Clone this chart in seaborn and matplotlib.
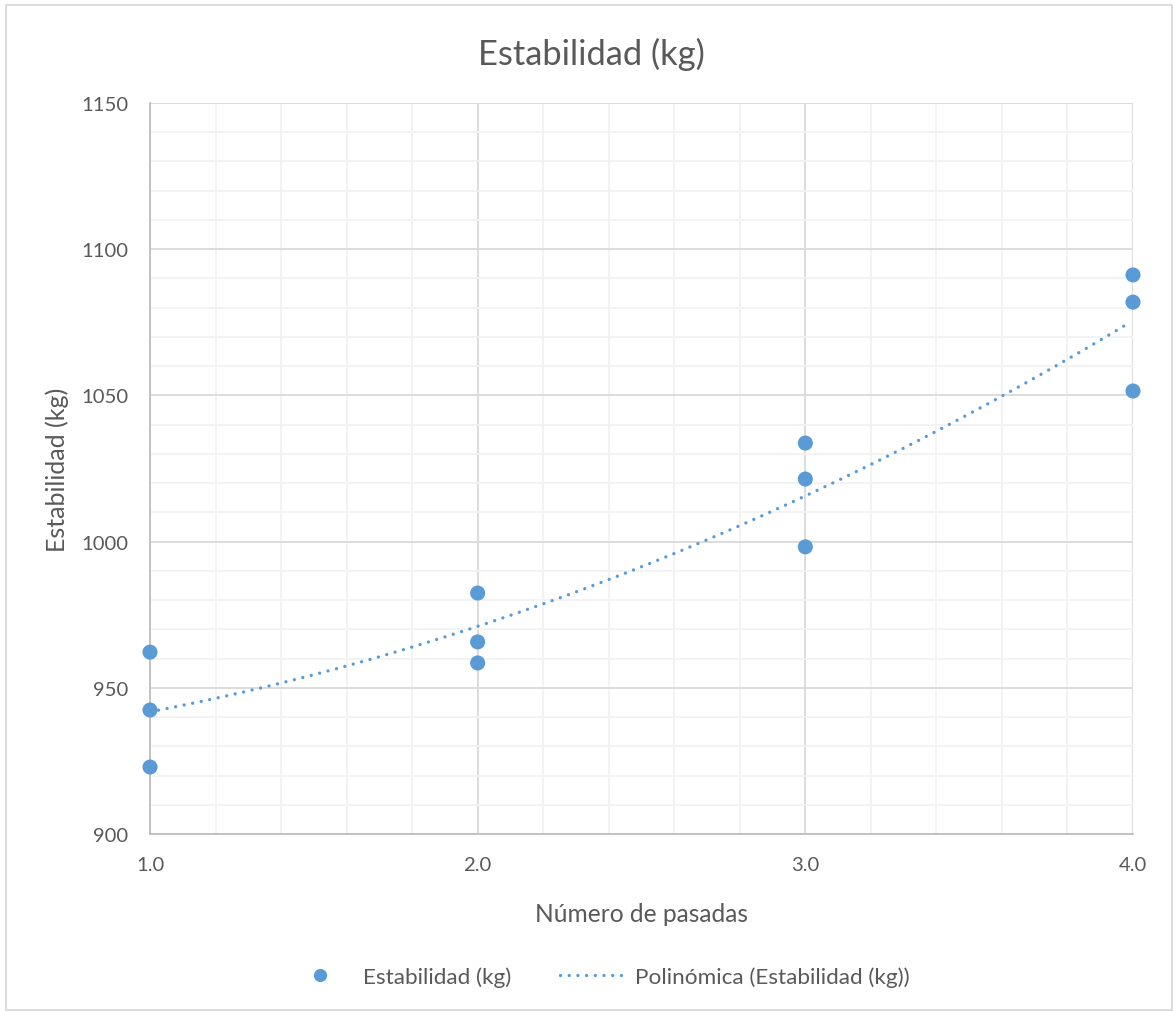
import numpy as np
import pandas as pd
import matplotlib
matplotlib.use("Agg")
import matplotlib.pyplot as plt
import seaborn as sns
from matplotlib.ticker import MultipleLocator, FormatStrFormatter
from matplotlib.lines import Line2D
from matplotlib.patches import Rectangle

# Data
pasadas = [1, 1, 1, 2, 2, 2, 3, 3, 3, 4, 4, 4]
estabilidad = [962.2, 942.4, 922.9, 982.4, 965.7, 958.5,
               1033.7, 1021.4, 998.2, 1091.2, 1081.9, 1051.5]
title = "Estabilidad (kg)"
xlabel = "Número de pasadas"
ylabel = "Estabilidad (kg)"
series_label = "Estabilidad (kg)"
trend_label = "Polinómica (Estabilidad (kg))"

sns.set_theme(style="white")
plt.rcParams['font.family'] = ['Lato', 'DejaVu Sans']

text_col = "#595959"
blue = "#5B9BD5"
W, H = 1174, 1012

fig = plt.figure(figsize=(W / 100, H / 100), dpi=100)
renderer = fig.canvas.get_renderer()


def size_for(text, target_px, base=20):
    t = fig.text(0, 0, text, fontsize=base)
    w = t.get_window_extent(renderer).width
    t.remove()
    return base * target_px / w


title_fs = size_for(title, 227)
xlabel_fs = size_for(xlabel, 213)
ylabel_fs = size_for(ylabel, 165)
tick_fs = size_for("1150", 47)
leg_fs = size_for(series_label, 148)

ax = fig.add_axes([150 / W, 1 - 835 / H, (1133 - 150) / W, (835 - 104) / H])

df = pd.DataFrame({"x": pasadas, "y": estabilidad})
coef = np.polyfit(df["x"], df["y"], 2)
xt = np.linspace(1.0, 3.98, 300)
trend = pd.DataFrame({"x": xt, "y": np.polyval(coef, xt)})

dot_style = (0, (0.01, 2.6))
sns.lineplot(data=trend, x="x", y="y", ax=ax, color=blue, lw=2.4,
             linestyle=dot_style, dash_capstyle="round", zorder=3)
sns.scatterplot(data=df, x="x", y="y", ax=ax, color=blue, s=118,
                edgecolor="none", zorder=4, clip_on=False)

ax.set_xlim(1, 4)
ax.set_ylim(900, 1150)
ax.xaxis.set_major_locator(MultipleLocator(1))
ax.xaxis.set_minor_locator(MultipleLocator(0.2))
ax.yaxis.set_major_locator(MultipleLocator(50))
ax.yaxis.set_minor_locator(MultipleLocator(10))
ax.xaxis.set_major_formatter(FormatStrFormatter("%.1f"))

ax.grid(which="major", color="#D9D9D9", lw=1.3)
ax.grid(which="minor", color="#F2F2F2", lw=1.3)
ax.set_axisbelow(True)

for s in ["top", "right"]:
    ax.spines[s].set_visible(False)
for s in ["left", "bottom"]:
    ax.spines[s].set_color("#BFBFBF")
    ax.spines[s].set_linewidth(1.3)

ax.tick_params(axis="both", which="major", length=5.5, width=1.3, color="#BFBFBF",
               labelsize=tick_fs, labelcolor=text_col, direction="out")
ax.tick_params(axis="x", pad=10)
ax.tick_params(axis="y", pad=10)
ax.tick_params(axis="both", which="minor", length=0)

ax.set_xlabel(xlabel, fontsize=xlabel_fs, color=text_col, va="baseline")
ax.xaxis.set_label_coords(641.5 / W, 1 - 922 / H, transform=fig.transFigure)
ax.set_ylabel(ylabel, fontsize=ylabel_fs, color=text_col, va="baseline")
ax.yaxis.set_label_coords(65 / W, 1 - 469.5 / H, transform=fig.transFigure)

fig.text(591.5 / W, 1 - 65 / H, title, ha="center", va="baseline",
         fontsize=title_fs, color=text_col)

em = leg_fs * 100 / 72
handles = [
    Line2D([], [], marker="o", color=blue, linestyle="none", markersize=9.5,
           markeredgewidth=0),
    Line2D([], [], color=blue, lw=2.4, linestyle=dot_style, dash_capstyle="round"),
]
fig.legend(handles, [series_label, trend_label], loc="center",
           bbox_to_anchor=(598.5 / W, 1 - 978 / H),
           ncol=2, frameon=False, fontsize=leg_fs, labelcolor=text_col,
           handlelength=64 / em, columnspacing=49 / em, handletextpad=11 / em)

fig.patches.append(Rectangle((6 / W, 1 / H), (1172 - 6) / W, (1006 - 1) / H,
                             transform=fig.transFigure, fill=False,
                             edgecolor="#D9D9D9", lw=1.3))

fig.savefig("out.png", dpi=100, facecolor="white")
